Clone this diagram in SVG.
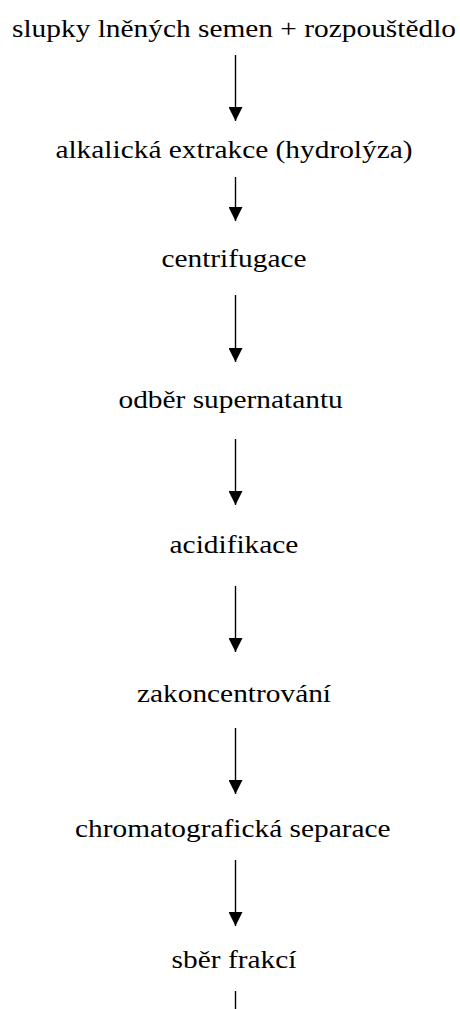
<svg xmlns="http://www.w3.org/2000/svg" width="460" height="1009" viewBox="0 0 460 1009">
  <style>
    .step { font-family: "Liberation Serif", "Times New Roman", serif; font-size: 26px; fill: #000; text-anchor: middle; }
    .flow { stroke: #000; stroke-width: 1.4; fill: none; }
  </style>
  <defs>
    <marker id="head" markerUnits="userSpaceOnUse" markerWidth="14" markerHeight="14" refX="14" refY="7" orient="auto">
      <path d="M0,0 L14,7 L0,14 Z" fill="#000"/>
    </marker>
  </defs>
  <rect width="460" height="1009" fill="#fff"/>

  <!-- process steps, slightly widened serif type -->
  <g transform="translate(234,0) scale(1.13,1) translate(-234,0)">
    <g id="step-vstup"><text class="step" x="234" y="37">slupky lněných semen + rozpouštědlo</text></g>
    <g id="step-extrakce"><text class="step" x="234" y="158">alkalická extrakce (hydrolýza)</text></g>
    <g id="step-centrifugace"><text class="step" x="234" y="267">centrifugace</text></g>
    <g id="step-supernatant"><text class="step" x="231" y="408">odběr supernatantu</text></g>
    <g id="step-acidifikace"><text class="step" x="234" y="553">acidifikace</text></g>
    <g id="step-zakoncentrovani"><text class="step" x="234" y="702">zakoncentrování</text></g>
    <g id="step-separace"><text class="step" x="233" y="837">chromatografická separace</text></g>
    <g id="step-frakce"><text class="step" x="234" y="968">sběr frakcí</text></g>
  </g>

  <!-- connectors -->
  <g id="connectors">
    <line class="flow" x1="235.5" y1="55" x2="235.5" y2="121" marker-end="url(#head)"/>
    <line class="flow" x1="235.5" y1="177" x2="235.5" y2="221" marker-end="url(#head)"/>
    <line class="flow" x1="235.5" y1="295" x2="235.5" y2="362" marker-end="url(#head)"/>
    <line class="flow" x1="235.5" y1="439" x2="235.5" y2="505" marker-end="url(#head)"/>
    <line class="flow" x1="235.5" y1="586" x2="235.5" y2="652" marker-end="url(#head)"/>
    <line class="flow" x1="235.5" y1="728" x2="235.5" y2="794" marker-end="url(#head)"/>
    <line class="flow" x1="235.5" y1="860" x2="235.5" y2="926" marker-end="url(#head)"/>
    <line class="flow" x1="235.5" y1="991" x2="235.5" y2="1009"/>
  </g>
</svg>
